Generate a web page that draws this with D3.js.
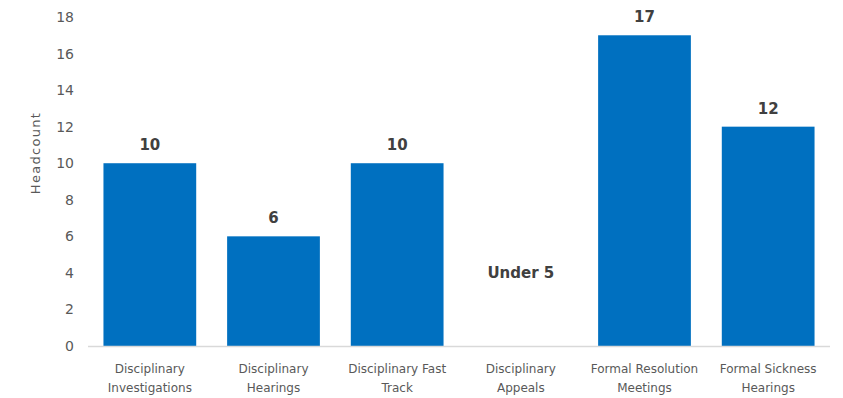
<!DOCTYPE html>
<html>
<head>
<meta charset="utf-8">
<script src="https://cdn.jsdelivr.net/npm/d3@7"></script>
<style>
  body { margin: 0; background: #fff; }
  text { font-family: "DejaVu Sans", Verdana, sans-serif; }
</style>
</head>
<body>
<div id="chart"></div>
<script>
// categories, two lines each
const categories = [
    ["Disciplinary", "Investigations"],
    ["Disciplinary", "Hearings"],
    ["Disciplinary Fast", "Track"],
    ["Disciplinary", "Appeals"],
    ["Formal Resolution", "Meetings"],
    ["Formal Sickness", "Hearings"]
];
const values = [10, 6, 10, null, 17, 12];
const valueLabels = ["10", "6", "10", "Under 5", "17", "12"];
const yTicks = [0, 2, 4, 6, 8, 10, 12, 14, 16, 18];

function createBarChart() {
    const width = 843, height = 398;

    const svg = d3.select("#chart")
        .append("svg")
        .attr("width", width)
        .attr("height", height);

    const x = d3.scaleBand()
        .domain(d3.range(categories.length))
        .range([88, 830])
        .paddingInner(0.25)
        .paddingOuter(0.125);

    const y = d3.scaleLinear()
        .domain([0, 18])
        .range([346, 17]);

    const rows = values.map((v, i) => ({i: i, value: v, label: valueLabels[i]}));

    // y axis labels
    svg.append("g")
        .selectAll("text")
        .data(yTicks)
        .enter().append("text")
        .attr("x", 74)
        .attr("y", d => y(d))
        .attr("dy", "0.36em")
        .attr("text-anchor", "end")
        .attr("font-size", 14)
        .attr("fill", "#595959")
        .text(d => d);

    svg.append("text")
        .attr("transform", "translate(40,153) rotate(-90)")
        .attr("text-anchor", "middle")
        .attr("font-size", 13)
        .attr("letter-spacing", 1.3)
        .attr("fill", "#595959")
        .text("Headcount");

    // bars
    svg.append("g")
        .selectAll("rect")
        .data(rows.filter(d => d.value != null))
        .enter().append("rect")
        .attr("x", d => x(d.i))
        .attr("y", d => y(d.value))
        .attr("width", x.bandwidth())
        .attr("height", d => y(0) - y(d.value))
        .attr("fill", "#0070C0");

    // baseline
    svg.append("line")
        .attr("x1", 88).attr("x2", 830)
        .attr("y1", y(0) + 0.5).attr("y2", y(0) + 0.5)
        .attr("stroke", "#d9d9d9")
        .attr("stroke-width", 1.5);

    // value labels
    svg.append("g")
        .selectAll("text")
        .data(rows)
        .enter().append("text")
        .attr("x", d => x(d.i) + x.bandwidth() / 2)
        .attr("y", d => d.value == null ? y(4) + 5 : y(d.value) - 13)
        .attr("text-anchor", "middle")
        .attr("font-size", 15)
        .attr("font-weight", "bold")
        .attr("fill", "#404040")
        .text(d => d.label);

    // category labels
    const cat = svg.append("g")
        .selectAll("text")
        .data(categories)
        .enter().append("text")
        .attr("text-anchor", "middle")
        .attr("font-size", 12)
        .attr("fill", "#595959");

    cat.each(function(d, i) {
        const t = d3.select(this);
        d.forEach((line, j) => {
            t.append("tspan")
                .attr("x", x(i) + x.bandwidth() / 2)
                .attr("y", 373 + j * 19)
                .text(line);
        });
    });
}

createBarChart();
</script>
</body>
</html>
